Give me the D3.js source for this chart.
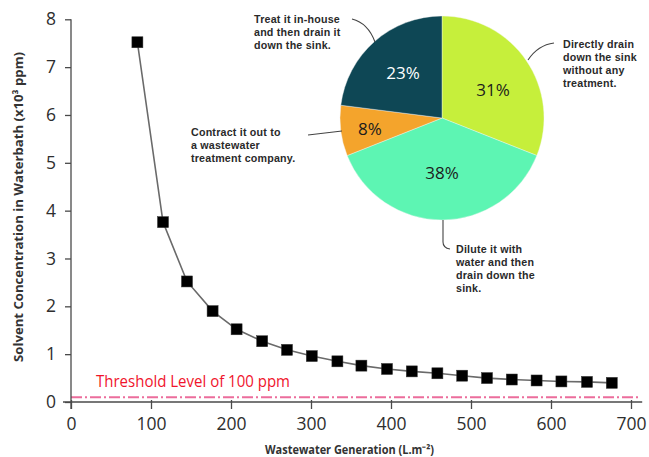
<!DOCTYPE html>
<html><head><meta charset="utf-8">
<script src="https://cdn.jsdelivr.net/npm/d3@7"></script>
<style>
html,body{margin:0;padding:0;background:#fff;}
svg{display:block;}
</style></head>
<body>
<svg id="chart" width="649" height="457"></svg>
<script>
// ---- data ----
const wastewaterGen = [83, 115, 145, 177, 207, 239, 270, 301, 333, 363, 395, 426, 458, 489, 520, 551, 582, 613, 645, 676];
const solventConc = [7.52, 3.76, 2.52, 1.90, 1.52, 1.27, 1.09, 0.96, 0.85, 0.76, 0.69, 0.64, 0.60, 0.55, 0.50, 0.47, 0.45, 0.43, 0.42, 0.40];
const xTicks = [0, 100, 200, 300, 400, 500, 600, 700];
const yTicks = [0, 1, 2, 3, 4, 5, 6, 7, 8];
const thresholdValue = 0.1;
const thresholdLabel = "Threshold Level of 100 ppm";
const xTitle = "Wastewater Generation (L.m\u207B\u00B2)";
const yTitle = "Solvent Concentration in Waterbath (x10\u00B3 ppm)";
const pieCategories = ["Directly drain down the sink without any treatment.", "Dilute it with water and then drain down the sink.", "Contract it out to a wastewater treatment company.", "Treat it in-house and then drain it down the sink."];
const pieValues = [31, 38, 8, 23];
const pieColors = ["#c6ef3b", "#5df5b3", "#f4a42c", "#0e4755"];
const pieLabelColors = ["#1c1c1c", "#1c1c1c", "#1c1c1c", "#ffffff"];

const svg = d3.select("#chart");
const x = d3.scaleLinear().domain([0, 700]).range([71, 631]);
const y = d3.scaleLinear().domain([0, 8]).range([402, 19.3]);
const axisColor = "#4a4a4a";
const tickFont = "'Open Sans', 'Liberation Sans', sans-serif";

// threshold line
svg.append("line")
  .attr("x1", x(0)).attr("x2", x(712))
  .attr("y1", y(thresholdValue)).attr("y2", y(thresholdValue))
  .attr("stroke", "#ec6d9c").attr("stroke-width", 2)
  .attr("stroke-dasharray", "11,3,2,3");
svg.append("text")
  .attr("x", 96).attr("y", 387)
  .attr("fill", "#f0142c")
  .attr("font-family", tickFont)
  .attr("font-size", 15.5)
  .attr("textLength", 194).attr("lengthAdjust", "spacingAndGlyphs")
  .text(thresholdLabel);

// axes
const yAxis = d3.axisLeft(y).tickValues(yTicks).tickSizeInner(6).tickSizeOuter(0).tickPadding(9).tickFormat(d3.format("d"));
const gy = svg.append("g").attr("transform", `translate(${x(0)},0)`).call(yAxis);
const xAxis = d3.axisBottom(x).tickValues(xTicks).tickSizeInner(7).tickSizeOuter(0).tickPadding(9).tickFormat(d3.format("d"));
const gx = svg.append("g").attr("transform", `translate(0,${y(0)})`).call(xAxis);
[gx, gy].forEach(g => {
  g.select(".domain").remove();
  g.selectAll(".tick line").attr("stroke", axisColor).attr("stroke-width", 1.3);
  g.selectAll(".tick text").attr("fill", "#2e2e2e").attr("font-family", tickFont).attr("font-size", 17.5);
});
gx.selectAll(".tick line").attr("y1", -2);
// axis lines (extended a little beyond the ranges)
svg.append("line").attr("x1", x(0)).attr("x2", x(0)).attr("y1", y(8)).attr("y2", y(0) + 7)
  .attr("stroke", axisColor).attr("stroke-width", 1.3);
svg.append("line").attr("x1", x(0) - 8).attr("x2", x(714)).attr("y1", y(0)).attr("y2", y(0))
  .attr("stroke", axisColor).attr("stroke-width", 1.3);

// axis titles
const titleFont = "'Open Sans', 'Liberation Sans', sans-serif";
svg.append("text").attr("x", 265).attr("y", 454).attr("text-anchor", "start")
  .attr("font-family", titleFont).attr("font-weight", "bold").attr("font-size", 11.5).attr("fill", "#333")
  .attr("textLength", 169).attr("lengthAdjust", "spacingAndGlyphs")
  .text(xTitle);
svg.append("text").attr("transform", "translate(23,362) rotate(-90)").attr("text-anchor", "start")
  .attr("font-family", titleFont).attr("font-weight", "bold").attr("font-size", 12.5).attr("fill", "#333")
  .attr("textLength", 310).attr("lengthAdjust", "spacingAndGlyphs")
  .text(yTitle);

// data line and markers
const pts = wastewaterGen.map((d, i) => [d, solventConc[i]]);
svg.append("path").datum(pts)
  .attr("d", d3.line().x(d => x(d[0])).y(d => y(d[1])))
  .attr("fill", "none").attr("stroke", "#6a6a6a").attr("stroke-width", 1.6);
svg.append("g").selectAll("rect").data(pts).join("rect")
  .attr("x", d => x(d[0]) - 5.5).attr("y", d => y(d[1]) - 5.5)
  .attr("width", 11).attr("height", 11)
  .attr("fill", "#000").attr("stroke", "#333").attr("stroke-width", 0.5);

// pie
const cx = 442, cy = 118, r = 102;
const pie = d3.pie().sort(null)(pieValues);
const arc = d3.arc().innerRadius(0).outerRadius(r);
const pg = svg.append("g").attr("transform", `translate(${cx},${cy})`);
pg.selectAll("path").data(pie).join("path")
  .attr("d", arc).attr("fill", (d, i) => pieColors[i])
  .attr("stroke", "#f4f4f4").attr("stroke-width", 0.4);
const labelPos = [[51, -28], [0, 55], [-72, 11], [-39, -45]];
pg.selectAll("text.pct").data(pie).join("text").attr("class", "pct")
  .attr("x", (d, i) => labelPos[i][0]).attr("y", (d, i) => labelPos[i][1])
  .attr("text-anchor", "middle").attr("dy", "0.35em")
  .attr("font-family", tickFont).attr("font-size", 17)
  .attr("fill", (d, i) => pieLabelColors[i])
  .text(d => d.data + "%");

// annotations
const annFont = "'Liberation Sans', Arial, sans-serif";
const annotations = [
  {lines: ["Directly drain", "down the sink", "without any", "treatment."], x: 563, y: 48, path: "M554,43 Q538,45 528,60"},
  {lines: ["Dilute it with", "water and then", "drain down the", "sink."], x: 456, y: 253, path: "M443,220 L443,242 Q443,248 450,249"},
  {lines: ["Contract it out to", "a wastewater", "treatment company."], x: 191, y: 136, path: "M308,135 L342,131"},
  {lines: ["Treat it in-house", "and then drain it", "down the sink."], x: 254, y: 23, path: "M352,19 Q368,23 375,42"}
];
annotations.forEach((a, ai) => {
  const t = svg.append("text").attr("x", a.x).attr("y", a.y)
    .attr("font-family", annFont).attr("font-weight", "bold").attr("font-size", 10.7)
    .attr("letter-spacing", 0.2).attr("fill", "#2a2a2a")
    .attr("data-category", pieCategories[ai]);
  a.lines.forEach((l, i) => t.append("tspan").attr("x", a.x).attr("dy", i ? 13 : 0).text(l));
  svg.append("path").attr("d", a.path).attr("fill", "none").attr("stroke", "#444").attr("stroke-width", 1.1);
});
</script>
</body></html>
